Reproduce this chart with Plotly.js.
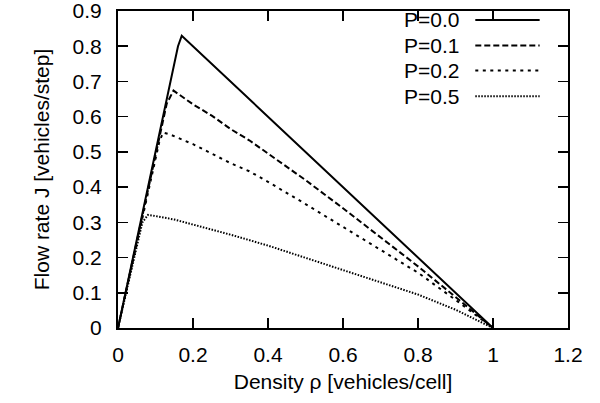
<!DOCTYPE html>
<html>
<head>
<meta charset="utf-8">
<script src="https://cdn.plot.ly/plotly-3.0.1.min.js"></script>
<style>html,body{margin:0;padding:0;background:#fff;}#chart{width:600px;height:403px;}</style>
</head>
<body>
<div id="chart"></div>
<script>
// Density values (x) and flow rates (y) for each braking probability P
const rhoP00 = [0, 0.16, 0.17, 1.0];
const flowP00 = [0, 0.80, 0.83, 0];

const rhoP01 = [0, 0.13, 0.148, 0.2, 0.25, 0.3, 0.35, 0.4, 0.5, 0.6, 0.7, 0.8, 0.9, 1.0];
const flowP01 = [0, 0.637, 0.674, 0.635, 0.603, 0.565, 0.533, 0.496, 0.42, 0.34, 0.258, 0.175, 0.088, 0];

const rhoP02 = [0, 0.11, 0.12, 0.14, 0.2, 0.25, 0.3, 0.35, 0.4, 0.5, 0.6, 0.7, 0.8, 0.9, 1.0];
const flowP02 = [0, 0.528, 0.555, 0.549, 0.522, 0.494, 0.468, 0.445, 0.415, 0.352, 0.287, 0.222, 0.157, 0.08, 0];

const rhoP05 = [0, 0.065, 0.08, 0.1, 0.15, 0.2, 0.3, 0.4, 0.5, 0.6, 0.7, 0.8, 0.9, 0.95, 1.0];
const flowP05 = [0, 0.30, 0.321, 0.318, 0.308, 0.294, 0.265, 0.234, 0.199, 0.165, 0.13, 0.095, 0.052, 0.025, 0];

const seriesNames = ["P=0.0", "P=0.1", "P=0.2", "P=0.5"];
const xTickVals = [0, 0.2, 0.4, 0.6, 0.8, 1.0, 1.2];
const yTickVals = [0, 0.1, 0.2, 0.3, 0.4, 0.5, 0.6, 0.7, 0.8, 0.9];

const dashes = ["solid", "6px,3px", "3px,4.5px", "1.5px,1.5px"];
const xs = [rhoP00, rhoP01, rhoP02, rhoP05];
const ys = [flowP00, flowP01, flowP02, flowP05];

const traces = xs.map((x, i) => ({
  x: x, y: ys[i], type: "scatter", mode: "lines", name: seriesNames[i],
  line: {color: "#000", width: 2, dash: dashes[i]}, showlegend: false
}));

const FONT = "Liberation Sans, Arial, Helvetica, sans-serif";
const FS = 21;
const rowY = [0.972, 0.891, 0.812, 0.731];
const annotations = seriesNames.map((n, i) => ({
  xref: "paper", yref: "paper", x: 0.762, y: rowY[i], xanchor: "right", yanchor: "middle",
  text: n, showarrow: false, font: {family: FONT, size: FS, color: "#000"}
}));
const shapes = dashes.map((d, i) => ({
  type: "line", xref: "paper", yref: "paper", x0: 0.794, x1: 0.937, y0: rowY[i], y1: rowY[i],
  line: {color: "#000", width: 2, dash: d}
}));

const axisCommon = {
  showgrid: false, zeroline: false, showline: true, linecolor: "#000", linewidth: 2,
  mirror: "ticks", ticks: "inside", ticklen: 10, tickwidth: 1.5, tickcolor: "#000",
  ticklabeloverflow: "allow",
  tickfont: {family: FONT, size: FS, color: "#000"}
};

const layout = {
  width: 600, height: 403,
  margin: {l: 117.5, r: 31.5, t: 11, b: 75},
  paper_bgcolor: "#fff", plot_bgcolor: "#fff",
  xaxis: Object.assign({}, axisCommon, {
    range: [0, 1.2], tickvals: xTickVals, ticklabelstandoff: 7,
    title: {text: "Density ρ [vehicles/cell]", font: {family: FONT, size: FS, color: "#000"}, standoff: 9}
  }),
  yaxis: Object.assign({}, axisCommon, {
    range: [0, 0.9], tickvals: yTickVals, ticklabelstandoff: 10,
    title: {text: "Flow rate J [vehicles/step]", font: {family: FONT, size: FS, color: "#000"}, standoff: 17}
  }),
  annotations: annotations,
  shapes: shapes
};

Plotly.newPlot("chart", traces, layout, {staticPlot: true, displayModeBar: false});
</script>
</body>
</html>
